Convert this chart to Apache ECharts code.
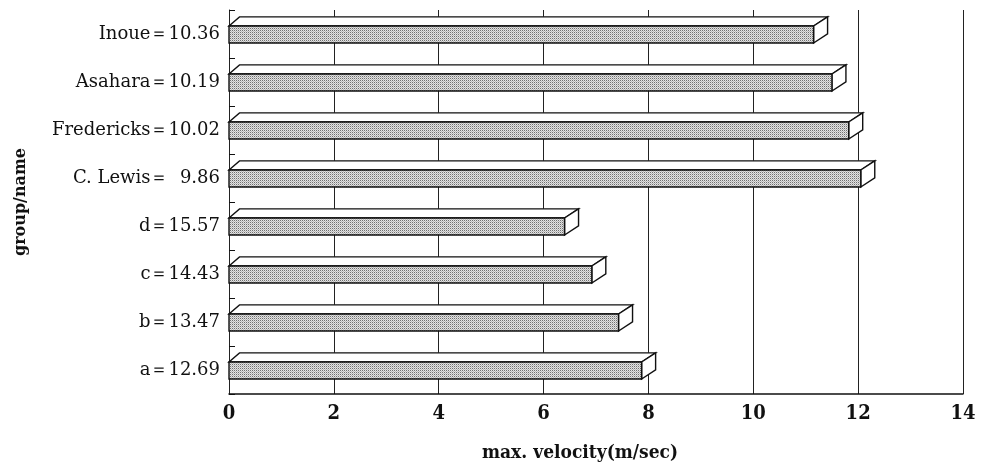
<!DOCTYPE html>
<html>
<head>
<meta charset="utf-8">
<script src="https://cdn.jsdelivr.net/npm/echarts@6/dist/echarts.min.js"></script>
<style>
html,body{margin:0;padding:0;background:#fff;}
#chart{width:984px;height:469px;}
</style>
</head>
<body>
<div id="chart"></div>
<script>
// ---- data ----
const groups = ['a', 'b', 'c', 'd', 'C. Lewis', 'Fredericks', 'Asahara', 'Inoue'];
const times = ['12.69', '13.47', '14.43', '15.57', ' 9.86', '10.02', '10.19', '10.36'];
const velocities = [7.87, 7.43, 6.92, 6.40, 12.05, 11.82, 11.50, 11.15];
const xMin = 0, xMax = 14, xStep = 2;
const xTitle = 'max. velocity(m/sec)';
const yTitle = 'group/name';

const labels = groups.map((g, i) => g + '＝' + (times[i].startsWith(' ') ? '  ' + times[i].trim() : times[i]));

// stipple pattern for bar front faces
const pc = document.createElement('canvas');
pc.width = 4; pc.height = 4;
const pctx = pc.getContext('2d');
for (let y = 0; y < 4; y++) {
  for (let x = 0; x < 4; x++) {
    let col = '#e2e2e2';
    if (x % 2 === 0 && y % 2 === 0) col = '#707070';
    else if ((x + y) % 2 === 0) col = '#b8b8b8';
    pctx.fillStyle = col;
    pctx.fillRect(x, y, 1, 1);
  }
}
const stipple = { image: pc, repeat: 'repeat' };

function renderItem(params, api) {
  const v = api.value(0), ci = api.value(1);
  const p0 = api.coord([0, ci]);
  const p1 = api.coord([v, ci]);
  const band = api.size([0, 1])[1];
  const c = p1[1];
  const x0 = p0[0], x1 = p1[0];
  const yT = c - band * 0.167;
  const yB = c + band * 0.1875;
  const dx = 14, dy = band * 0.19;
  const lw = 1.4;
  return {
    type: 'group',
    children: [
      { type: 'polygon', shape: { points: [[x0, yT], [x0 + dx * 0.75, yT - dy], [x1 + dx, yT - dy], [x1, yT]] },
        style: { fill: '#fff', stroke: '#111', lineWidth: lw } },
      { type: 'polygon', shape: { points: [[x1, yT], [x1 + dx, yT - dy], [x1 + dx, yB - dy], [x1, yB]] },
        style: { fill: '#fff', stroke: '#111', lineWidth: lw } },
      { type: 'rect', shape: { x: x0, y: yT, width: x1 - x0, height: yB - yT },
        style: { fill: stipple, stroke: '#111', lineWidth: lw } }
    ]
  };
}

const chart = echarts.init(document.getElementById('chart'), null, { renderer: 'canvas' });
chart.setOption({
  animation: false,
  backgroundColor: '#fff',
  grid: { left: 229, right: 21, top: 10, bottom: 75, containLabel: false, outerBoundsMode: 'none' },
  xAxis: {
    type: 'value', min: xMin, max: xMax, interval: xStep,
    name: xTitle, nameLocation: 'middle', nameGap: 50,
    nameTextStyle: { fontFamily: 'DejaVu Serif Condensed', fontWeight: 'bold', fontSize: 19, color: '#111', padding: [0, 32, 0, 0] },
    axisLine: { show: true, lineStyle: { color: '#111', width: 1.5 } },
    axisTick: { show: false },
    axisLabel: { fontFamily: 'DejaVu Serif Condensed', fontWeight: 'bold', fontSize: 20, color: '#111', margin: 10 },
    splitLine: { show: true, lineStyle: { color: '#222', width: 1 } }
  },
  yAxis: {
    type: 'category', data: labels,
    name: yTitle, nameLocation: 'middle', nameRotate: 90, nameGap: 200,
    nameTextStyle: { fontFamily: 'DejaVu Serif', fontWeight: 'bold', fontSize: 16, color: '#111' },
    axisLine: { show: true, lineStyle: { color: '#222', width: 1 } },
    axisTick: { show: true, inside: true, length: 6, alignWithLabel: false, interval: 0, lineStyle: { color: '#111' } },
    axisLabel: { fontFamily: 'DejaVu Serif', fontSize: 18, color: '#111', margin: 9, interval: 0 },
    splitLine: { show: false }
  },
  series: [{
    type: 'custom',
    renderItem: renderItem,
    encode: { x: 0, y: 1 },
    data: velocities.map((v, i) => [v, i])
  }]
});
</script>
</body>
</html>
